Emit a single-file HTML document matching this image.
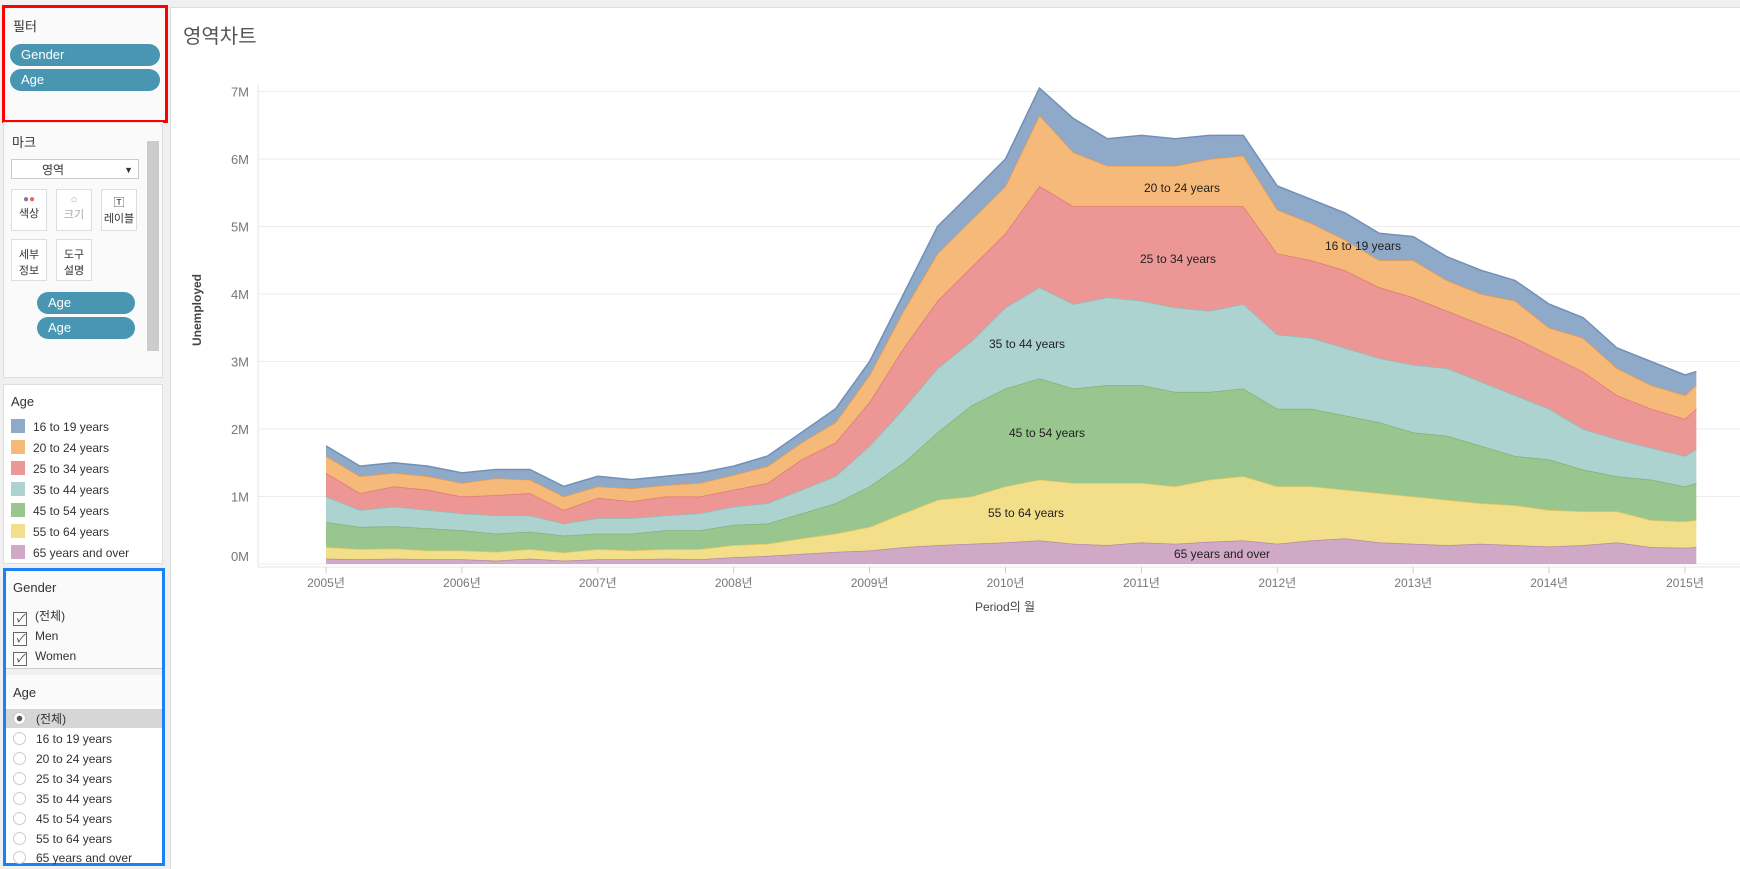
<!DOCTYPE html>
<html><head><meta charset="utf-8">
<style>
body{margin:0;width:1740px;height:868px;background:#f0f0f0;font-family:"Liberation Sans","Noto Sans CJK KR",sans-serif;position:relative;overflow:hidden;color:#333}
.abs{position:absolute}
.panel{position:absolute;background:#fafafa;border:1px solid #ddd}
.pill{position:absolute;background:#4996b2;color:#fff;border-radius:12px;font-size:13px;line-height:22px;padding-left:11px;box-sizing:border-box}
.t13{font-size:13px}
.leg{position:absolute;left:7px;font-size:12px;height:20px;line-height:20px}
.leg span{display:inline-block;width:14px;height:14px;vertical-align:-2px;margin-right:8px}
.cb{display:inline-block;width:12px;height:12px;border:1px solid #666;vertical-align:-2px;margin-right:8px;font-size:11px;line-height:12px;text-align:center}
.rb{display:inline-block;width:11px;height:11px;border:1px solid #ccc;border-radius:50%;vertical-align:-2px;margin-right:10px;background:#fff}
.mbtn{position:absolute;width:36px;height:42px;border:1px solid #ddd;background:#fff;font-size:11px;text-align:center;box-sizing:border-box}
</style></head><body>

<div class="panel" style="left:2px;top:5px;width:160px;height:112px;border:3px solid #f00;background:#fafafa">
  <div class="abs t13" style="left:8px;top:8px">필터</div>
  <div class="pill" style="left:5px;top:36px;width:150px">Gender</div>
  <div class="pill" style="left:5px;top:61px;width:150px">Age</div>
</div>

<div class="panel" style="left:3px;top:122px;width:158px;height:254px">
  <div class="abs t13" style="left:8px;top:9px">마크</div>
  <div class="abs" style="left:7px;top:36px;width:128px;height:20px;border:1px solid #ccc;background:#fff;font-size:12px;line-height:20px;padding-left:30px;box-sizing:border-box">영역<span style="position:absolute;right:5px;top:0;font-size:9px">▼</span></div>
  <div class="mbtn" style="left:7px;top:66px"><div style="margin-top:4px;font-size:10px;color:#8a6fa8">●<span style="color:#e66">●</span></div>색상</div>
  <div class="mbtn" style="left:52px;top:66px;color:#aaa"><div style="margin-top:4px">○</div>크기</div>
  <div class="mbtn" style="left:97px;top:66px"><div style="margin-top:4px">🅃</div>레이블</div>
  <div class="mbtn" style="left:7px;top:116px;padding-top:6px">세부<br>정보</div>
  <div class="mbtn" style="left:52px;top:116px;padding-top:6px">도구<br>설명</div>
  <div class="pill" style="left:33px;top:169px;width:98px">Age</div>
  <div class="pill" style="left:33px;top:194px;width:98px">Age</div>
  <div class="abs" style="left:143px;top:18px;width:12px;height:210px;background:#ccc"></div>
</div>

<div class="panel" style="left:3px;top:384px;width:158px;height:178px;background:#fff">
  <div class="abs t13" style="left:7px;top:9px">Age</div>
  <div class="leg" style="top:32px"><span style="background:#8fa9c8"></span>16 to 19 years</div>
  <div class="leg" style="top:53px"><span style="background:#f5b97a"></span>20 to 24 years</div>
  <div class="leg" style="top:74px"><span style="background:#ec9696"></span>25 to 34 years</div>
  <div class="leg" style="top:95px"><span style="background:#acd3d0"></span>35 to 44 years</div>
  <div class="leg" style="top:116px"><span style="background:#99c58f"></span>45 to 54 years</div>
  <div class="leg" style="top:137px"><span style="background:#f3de8a"></span>55 to 64 years</div>
  <div class="leg" style="top:158px"><span style="background:#cfa9c6"></span>65 years and over</div>
</div>

<div class="abs" style="left:3px;top:568px;width:156px;height:292px;border:3px solid #1a82f5;background:#fff">
  <div class="abs" style="left:0;top:0;width:156px;height:97px;background:#fafafa"></div>
  <div class="abs t13" style="left:7px;top:9px">Gender</div>
  <div class="leg" style="top:35px"><i class="cb">✓</i>(전체)</div>
  <div class="leg" style="top:55px"><i class="cb">✓</i>Men</div>
  <div class="leg" style="top:75px"><i class="cb">✓</i>Women</div>
  <div class="abs" style="left:0;top:97px;width:156px;height:6px;border-top:1px solid #ccc;border-bottom:1px solid #ccc;background:#f0f0f0"></div>
  <div class="abs" style="left:0;top:104px;width:156px;height:30px;background:#fafafa"></div>
  <div class="abs t13" style="left:7px;top:114px">Age</div>
  <div class="abs" style="left:0;top:138px;width:156px;height:19px;background:#d6d6d6"></div>
  <div class="leg" style="top:138px"><i class="rb" style="background:radial-gradient(#555 30%,#fff 40%)"></i>(전체)</div>
  <div class="leg" style="top:158px"><i class="rb"></i>16 to 19 years</div>
  <div class="leg" style="top:178px"><i class="rb"></i>20 to 24 years</div>
  <div class="leg" style="top:198px"><i class="rb"></i>25 to 34 years</div>
  <div class="leg" style="top:218px"><i class="rb"></i>35 to 44 years</div>
  <div class="leg" style="top:238px"><i class="rb"></i>45 to 54 years</div>
  <div class="leg" style="top:258px"><i class="rb"></i>55 to 64 years</div>
  <div class="leg" style="top:277px"><i class="rb"></i>65 years and over</div>
</div>

<div class="abs" style="left:170px;top:7px;width:1570px;height:861px;background:#fff;border-left:1px solid #ddd;border-top:1px solid #ddd"></div>
<div class="abs" style="left:183px;top:20px;font-size:20px;color:#555">영역차트</div>

<svg class="abs" style="left:0;top:0" width="1740" height="868">
  <g id="grid"></g><g id="areas"></g><g id="axes"></g>
</svg>

<script>
const months = [0,3,6,9,12,15,18,21,24,27,30,33,36,39,42,45,48,51,54,57,60,63,66,69,72,75,78,81,84,87,90,93,96,99,102,105,108,111,114,117,120,121];
const seriesNames = ['65 years and over','55 to 64 years','45 to 54 years','35 to 44 years','25 to 34 years','20 to 24 years','16 to 19 years'];
const s65 = [0.08,0.07,0.08,0.07,0.07,0.05,0.08,0.05,0.07,0.07,0.08,0.07,0.10,0.12,0.15,0.18,0.20,0.25,0.28,0.30,0.32,0.35,0.30,0.28,0.32,0.30,0.33,0.35,0.30,0.35,0.38,0.32,0.30,0.28,0.30,0.28,0.26,0.28,0.32,0.25,0.24,0.25];
const s55 = [0.17,0.15,0.15,0.13,0.13,0.13,0.14,0.12,0.15,0.13,0.14,0.15,0.18,0.18,0.23,0.27,0.35,0.50,0.67,0.70,0.83,0.90,0.90,0.92,0.88,0.85,0.92,0.95,0.85,0.80,0.72,0.73,0.70,0.67,0.60,0.59,0.54,0.50,0.46,0.40,0.39,0.40];
const s45 = [0.37,0.33,0.33,0.33,0.30,0.27,0.26,0.25,0.23,0.25,0.28,0.28,0.30,0.30,0.37,0.45,0.60,0.75,1.00,1.35,1.45,1.50,1.40,1.45,1.45,1.40,1.30,1.30,1.15,1.15,1.10,1.05,0.95,0.95,0.85,0.73,0.75,0.62,0.52,0.60,0.52,0.55];
const s35 = [0.38,0.25,0.29,0.27,0.25,0.27,0.24,0.18,0.23,0.23,0.22,0.25,0.27,0.30,0.35,0.40,0.60,0.80,0.95,0.95,1.20,1.35,1.25,1.30,1.25,1.25,1.20,1.25,1.10,1.05,1.00,0.95,1.00,1.00,0.95,0.90,0.75,0.60,0.55,0.47,0.45,0.50];
const s25 = [0.35,0.25,0.30,0.30,0.25,0.30,0.33,0.20,0.30,0.25,0.28,0.25,0.25,0.30,0.45,0.50,0.65,0.90,1.00,1.10,1.10,1.50,1.45,1.35,1.40,1.50,1.55,1.45,1.20,1.15,1.15,1.05,1.00,0.85,0.85,0.85,0.80,0.85,0.65,0.58,0.55,0.60];
const s20 = [0.25,0.25,0.20,0.20,0.20,0.25,0.20,0.20,0.17,0.19,0.17,0.20,0.22,0.25,0.25,0.30,0.40,0.55,0.70,0.70,0.70,1.05,0.80,0.60,0.60,0.60,0.70,0.75,0.65,0.55,0.45,0.40,0.55,0.45,0.45,0.55,0.40,0.50,0.40,0.35,0.35,0.35];
const s16 = [0.15,0.15,0.15,0.15,0.15,0.13,0.15,0.15,0.15,0.13,0.13,0.15,0.13,0.15,0.15,0.20,0.20,0.25,0.40,0.40,0.40,0.40,0.50,0.40,0.45,0.40,0.35,0.30,0.35,0.35,0.40,0.40,0.35,0.35,0.35,0.30,0.35,0.30,0.30,0.35,0.30,0.20];
const yTicks = [0,1,2,3,4,5,6,7];
const yTickLabels = ['0M','1M','2M','3M','4M','5M','6M','7M'];
const xTickLabels = ['2005년','2006년','2007년','2008년','2009년','2010년','2011년','2012년','2013년','2014년','2015년'];

const fills = ['#cfa9c6','#f3de8a','#99c58f','#acd3d0','#ec9696','#f5b97a','#8fa9c8'];
const strokes = ['#b48aab','#e8c95a','#7fb574','#8cc0bc','#e07878','#f09a45','#7190b8'];
const series = [s65,s55,s45,s35,s25,s20,s16];
const NS='http://www.w3.org/2000/svg';
const x = m => 326 + m*(1359/120);
const y = v => 564 - v*67.5;
const grid=document.getElementById('grid'), areas=document.getElementById('areas'), axes=document.getElementById('axes');
function mk(tag,attrs,parent){const e=document.createElementNS(NS,tag);for(const k in attrs)e.setAttribute(k,attrs[k]);parent.appendChild(e);return e;}

yTicks.forEach((t,i)=>{
  const g=mk('line',{x1:258,x2:1740,y1:y(t),y2:y(t),stroke:'#ececec','stroke-width':1},grid);
  
  
  const tx=mk('text',{x:249,y:y(t)+(t===0?-3:5),'text-anchor':'end','font-size':13,fill:'#777','font-family':'Liberation Sans, sans-serif'},axes);
  tx.textContent=yTickLabels[i];
  
  
});
const ax=mk('line',{x1:258,x2:258,y1:85,y2:567,stroke:'#e6e6e6'},grid);


const bx=mk('line',{x1:258,x2:1740,y1:567,y2:567,stroke:'#e6e6e6'},grid);



const cum=months.map(()=>0);
series.forEach((s,si)=>{
  const lower=cum.slice();
  months.forEach((m,i)=>{cum[i]+=s[i];});
  let d='M'+months.map((m,i)=>x(m)+','+y(cum[i])).join(' L');
  for(let i=months.length-1;i>=0;i--) d+=' L'+x(months[i])+','+y(lower[i]);
  d+=' Z';
  const p=mk('path',{d:d,fill:fills[si],stroke:'none'},areas);
  
  
  const l=mk('polyline',{points:months.map((m,i)=>x(m)+','+y(cum[i])).join(' '),fill:'none',stroke:strokes[si],'stroke-width':1.5},areas);
  
  
});

xTickLabels.forEach((lab,i)=>{
  const tk=mk('line',{x1:x(i*12),x2:x(i*12),y1:567,y2:573,stroke:'#ccc'},axes);
  
  
  const t=mk('text',{x:x(i*12),y:587,'text-anchor':'middle','font-size':12,fill:'#777','font-family':'Liberation Sans, Noto Sans CJK KR, sans-serif'},axes);
  t.textContent=lab;
  
  
});

const labels=[['20 to 24 years',1182,192],['25 to 34 years',1178,263],['16 to 19 years',1363,250],['35 to 44 years',1027,348],['45 to 54 years',1047,437],['55 to 64 years',1026,517],['65 years and over',1222,558]];
labels.forEach(a=>{
  const t=mk('text',{x:a[1],y:a[2],'text-anchor':'middle','font-size':12,fill:'#222','font-family':'Liberation Sans, sans-serif'},axes);
  t.textContent=a[0];
  
  
});
const yt=mk('text',{x:0,y:0,transform:'translate(201,310) rotate(-90)','text-anchor':'middle','font-size':12,'font-weight':'bold',fill:'#444','font-family':'Liberation Sans, sans-serif'},axes);
yt.textContent='Unemployed';


const xt=mk('text',{x:1005,y:611,'text-anchor':'middle','font-size':12,fill:'#444','font-family':'Liberation Sans, Noto Sans CJK KR, sans-serif'},axes);
xt.textContent='Period의 월';


</script>
</body></html>
